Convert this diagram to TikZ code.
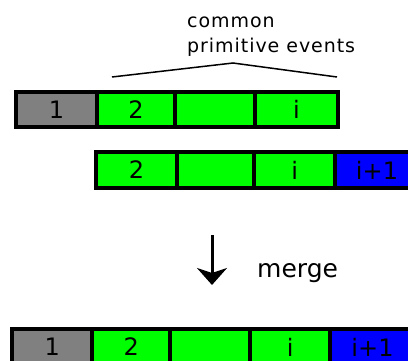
\documentclass[tikz,border=0pt]{standalone}
\usepackage{fontspec}
\setmainfont{DejaVu Sans}
\usetikzlibrary{arrows.meta}
\definecolor{cellgray}{HTML}{808080}
\definecolor{cellgreen}{HTML}{00FF00}
\definecolor{cellblue}{HTML}{0000FF}
\tikzset{
  cell/.style={draw=black, line width=4bp, rectangle, inner sep=0pt, outer sep=0pt,
    font=\fontsize{24bp}{28bp}\selectfont, text=black},
  caption/.style={inner sep=0pt, anchor=base west, text=black},
  brace/.style={draw=black, line width=1.5bp},
  mergearrow/.style={line width=3bp, -{Stealth[length=17bp, width=30bp, inset=5bp]}}
}
\begin{document}
\begin{tikzpicture}[x=1bp, y=-1bp]
\useasboundingbox (0,0) rectangle (408,361);
\clip (0,0) rectangle (408,361);

% caption above the first sequence
\node[caption, font=\fontsize{19bp}{23bp}\selectfont\addfontfeature{LetterSpace=5}] (common) at (187,27) {common};
\node[caption, font=\fontsize{19bp}{23bp}\selectfont\addfontfeature{LetterSpace=5}] (primitive) at (187,52) {primitive events};
\coordinate (braceL) at (112,77);
\coordinate (braceM) at (233,63);
\coordinate (braceR) at (337,77);
\draw[brace] (braceL) -- (braceM) -- (braceR);

% first sequence
\node[cell, fill=cellgray,  minimum width=81bp, minimum height=35bp] (a1) at (56.5,109.5) {1};
\node[cell, fill=cellgreen, minimum width=78bp, minimum height=35bp] (a2) at (136,109.5) {2};
\node[cell, fill=cellgreen, minimum width=80bp, minimum height=35bp] (a3) at (215,109.5) {};
\node[cell, fill=cellgreen, minimum width=83bp, minimum height=35bp] (a4) at (296.5,109.5) {i};

% second sequence
\node[cell, fill=cellgreen, minimum width=81bp, minimum height=36bp] (b2) at (136.5,170) {2};
\node[cell, fill=cellgreen, minimum width=77.5bp, minimum height=36bp] (b3) at (215.75,170) {};
\node[cell, fill=cellgreen, minimum width=80.5bp, minimum height=36bp] (b4) at (294.75,170) {i};
\node[cell, fill=cellblue,  minimum width=84bp, minimum height=36bp] (b5) at (377,170) {i+1};

% merge step
\coordinate (arrowtop) at (212,235);
\coordinate (arrowtip) at (212,285);
\draw[mergearrow] (arrowtop) -- (arrowtip);
\node[caption, font=\fontsize{25bp}{29bp}\selectfont] (merge) at (257,277) {merge};

% merged sequence
\node[cell, fill=cellgray,  minimum width=80.5bp, minimum height=36bp] (c1) at (52.25,347) {1};
\node[cell, fill=cellgreen, minimum width=77.5bp, minimum height=36bp] (c2) at (131.25,347) {2};
\node[cell, fill=cellgreen, minimum width=80bp, minimum height=36bp] (c3) at (210,347) {};
\node[cell, fill=cellgreen, minimum width=80.5bp, minimum height=36bp] (c4) at (290.25,347) {i};
\node[cell, fill=cellblue,  minimum width=84bp, minimum height=36bp] (c5) at (372.5,347) {i+1};
\end{tikzpicture}
\end{document}
